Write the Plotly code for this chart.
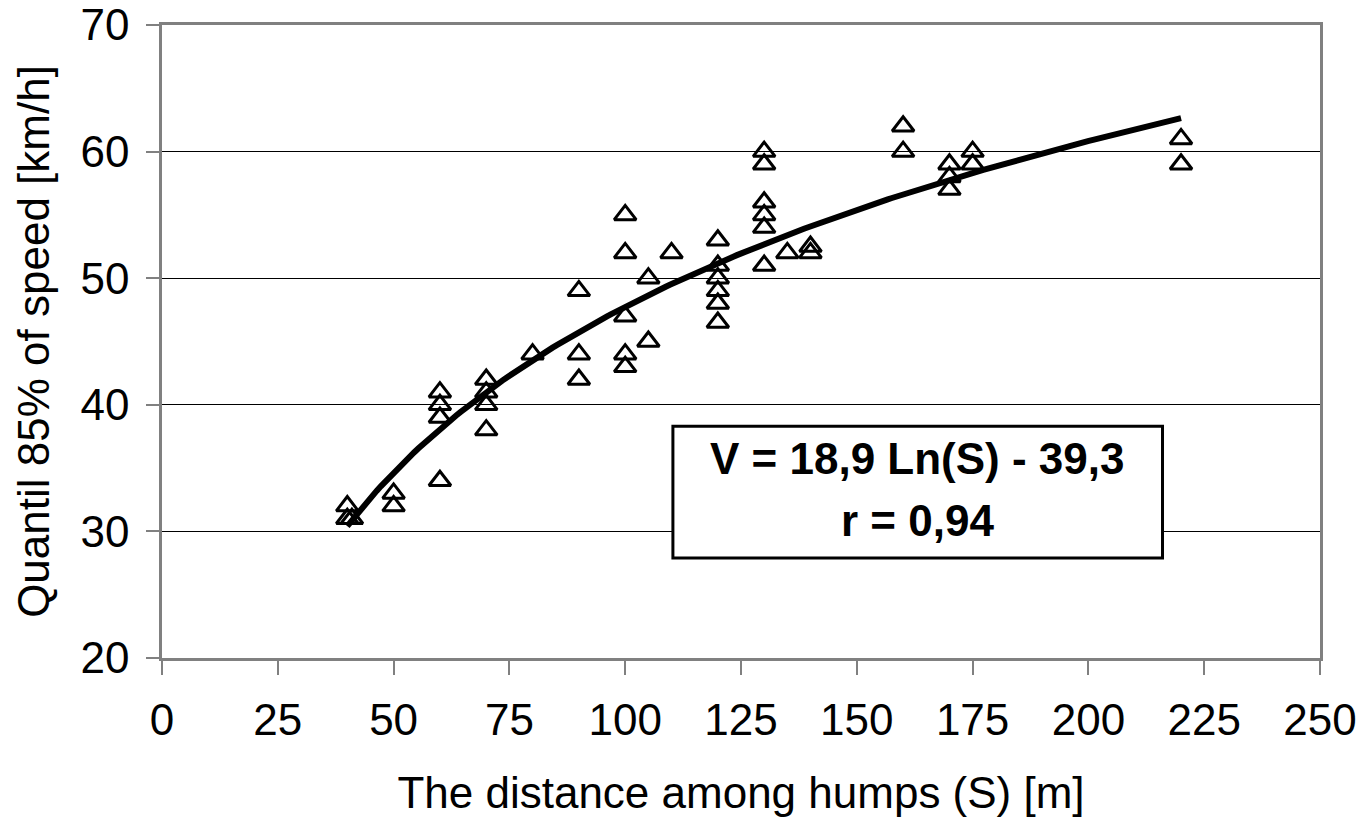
import numpy as np
import plotly.graph_objects as go

# Measured points: distance among humps S [m] and 85% quantile of speed [km/h]
distance_m = [40, 41, 40,
              50, 50,
              60, 60, 60, 60,
              70, 70, 70, 70,
              80,
              90, 90, 90,
              100, 100, 100, 100, 100,
              105, 105,
              110,
              120, 120, 120, 120, 120, 120,
              130, 130, 130, 130, 130, 130,
              135,
              140, 140,
              160, 160,
              170, 170, 170,
              175, 175,
              220, 220]
speed_kmh = [32, 31, 31,
             33, 32,
             41, 40, 39, 34,
             42, 41, 40, 38,
             44,
             49, 44, 42,
             55, 52, 47, 44, 43,
             50, 45,
             52,
             53, 51, 50, 49, 48, 46.5,
             60, 59, 56, 55, 54, 51,
             52,
             52.5, 52,
             62, 60,
             59, 58, 57,
             60, 59,
             61, 59]

# Logarithmic trend line shown on the chart: V = a*ln(S) + b
trend_a = 18.9
trend_b = -39.3
trend_range = [40, 220]
equation_text = "V = 18,9 Ln(S) - 39,3"
r_text = "r = 0,94"

x_ticks = [0, 25, 50, 75, 100, 125, 150, 175, 200, 225, 250]
y_ticks = [20, 30, 40, 50, 60, 70]

s_fit = np.linspace(trend_range[0], trend_range[1], 200)
v_fit = trend_a * np.log(s_fit) + trend_b

FONT = "Liberation Sans, Arial, sans-serif"
GRAY = "#808080"

fig = go.Figure()
fig.add_trace(go.Scatter(
    x=distance_m, y=speed_kmh, mode="markers",
    marker=dict(symbol="triangle-up-open", size=19, color="black",
                line=dict(color="black", width=3)),
    showlegend=False, hoverinfo="x+y"))
fig.add_trace(go.Scatter(
    x=s_fit, y=v_fit, mode="lines",
    line=dict(color="black", width=6), showlegend=False, hoverinfo="skip"))

# Equation box
fig.add_shape(type="rect", xref="x", yref="y",
              x0=110.3, x1=216, y0=27.9, y1=38.3,
              fillcolor="white", line=dict(color="black", width=3), layer="above")
fig.add_annotation(x=163.2, y=35.75, xref="x", yref="y", text="<b>" + equation_text + "</b>",
                   showarrow=False, font=dict(family=FONT, size=44, color="black"))
fig.add_annotation(x=163.2, y=30.85, xref="x", yref="y", text="<b>" + r_text + "</b>",
                   showarrow=False, font=dict(family=FONT, size=44, color="black"))

fig.update_layout(
    width=1367, height=823,
    margin=dict(l=162, r=47, t=25, b=165, autoexpand=False),
    paper_bgcolor="white", plot_bgcolor="white",
    font=dict(family=FONT, size=44, color="black"),
)
fig.update_xaxes(
    range=[0, 250], tickvals=x_ticks, ticktext=[str(v) for v in x_ticks],
    showgrid=False, zeroline=False,
    showline=True, linecolor=GRAY, linewidth=2.5, mirror=True,
    ticks="outside", ticklen=14, tickwidth=1.5, tickcolor=GRAY,
    ticklabelstandoff=7, ticklabeloverflow="allow",
    tickfont=dict(family=FONT, size=44, color="black"),
    title=dict(text="The distance among humps (S) [m]", standoff=35,
               font=dict(family=FONT, size=44, color="black")),
)
fig.update_yaxes(
    range=[20, 70], tickvals=y_ticks, ticktext=[str(v) for v in y_ticks],
    showgrid=True, gridcolor="black", gridwidth=1, zeroline=False,
    showline=True, linecolor=GRAY, linewidth=2.5, mirror=True,
    ticks="outside", ticklen=13, tickwidth=1.5, tickcolor=GRAY,
    ticklabelstandoff=8, ticklabeloverflow="allow",
    tickfont=dict(family=FONT, size=44, color="black"),
    title=dict(text="Quantil 85% of speed [km/h]", standoff=18,
               font=dict(family=FONT, size=44, color="black")),
)

fig.write_html("out.html",
               config={"displayModeBar": False},
               post_script="document.body.style.margin='0';document.body.style.overflow='hidden';")
